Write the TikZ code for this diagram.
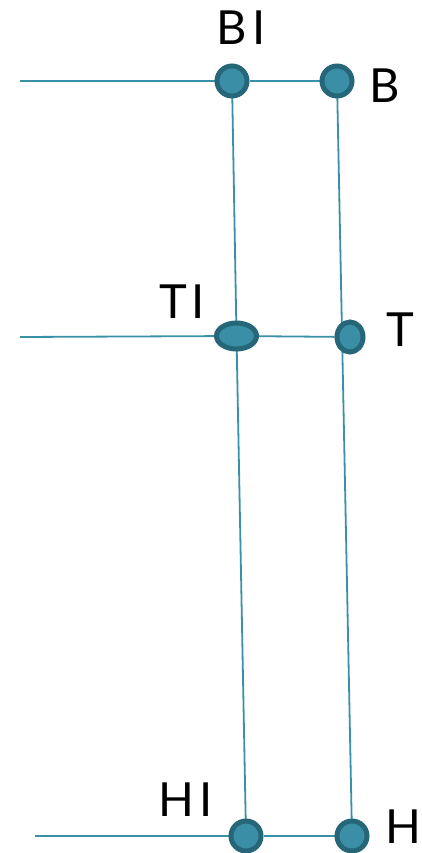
\documentclass[tikz,border=0pt]{standalone}
\usepackage{fontspec}
\setmainfont{Lato}
\usetikzlibrary{shapes.geometric,backgrounds}
\definecolor{dotfill}{RGB}{58,143,166}
\definecolor{dotedge}{RGB}{37,102,120}
\definecolor{wire}{RGB}{58,144,168}
\tikzset{
  dot/.style={circle,fill=dotfill,draw=dotedge,line width=5pt,inner sep=0pt,minimum size=30pt},
  oval/.style={ellipse,fill=dotfill,draw=dotedge,line width=5pt,inner sep=0pt},
  wireline/.style={draw=wire,line width=1.8pt},
  lbl/.style={anchor=base,inner sep=0pt,font=\fontsize{47}{50}\selectfont}
}
\begin{document}
\begin{tikzpicture}[x=1pt,y=-1pt]
\useasboundingbox (0,0) rectangle (422,853);
\node[dot] (b1) at (232,81) {};
\node[dot] (b) at (337,81) {};
\node[oval,minimum width=40pt,minimum height=26pt] (t1) at (236.5,336) {};
\node[oval,minimum width=26pt,minimum height=30pt] (t) at (350,337) {};
\node[dot] (h1) at (246,836) {};
\node[dot] (h) at (352,836) {};
\coordinate (bl) at (20,81);
\coordinate (tl) at (20,337);
\coordinate (hl) at (35,836);
\begin{pgfonlayer}{background}
\draw[wireline] (bl) -- (b1) -- (b);
\draw[wireline] (tl) -- (t1) -- (t);
\draw[wireline] (hl) -- (h1) -- (h);
\draw[wireline] (b1.center) -- (t1.center) -- (h1.center);
\draw[wireline] (b.center) -- (h.center);
\end{pgfonlayer}
\node[lbl] (lb1) at (241,45) {B\kern5pt I};
\node[lbl] (lb) at (385,103) {B};
\node[lbl] (lt1) at (182,318) {T\kern5pt I};
\node[lbl] (lt) at (400,346) {T};
\node[lbl] (lh1) at (186,816) {H\kern5pt I};
\node[lbl] (lh) at (403,843) {H};
\end{tikzpicture}
\end{document}
